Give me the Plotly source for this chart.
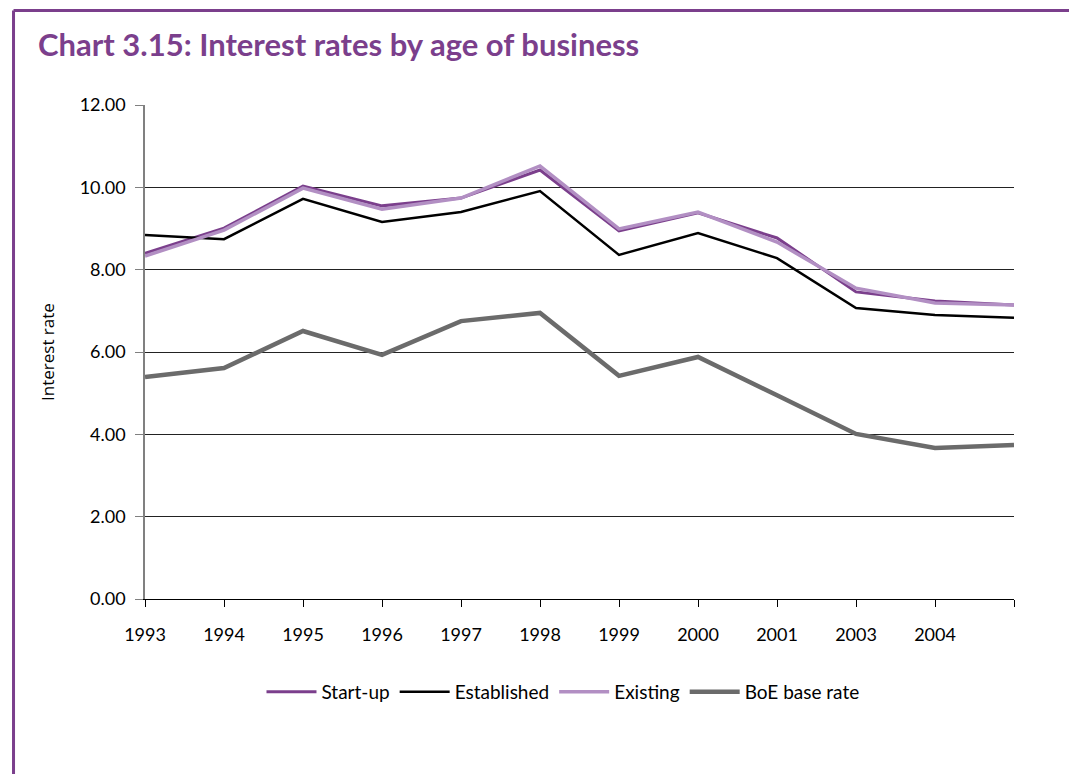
import plotly.graph_objects as go

# Category axis: one point per survey year (last point has no label)
years = ["1993", "1994", "1995", "1996", "1997", "1998", "1999", "2000", "2001", "2003", "2004", ""]

start_up = [8.40, 9.01, 10.03, 9.55, 9.74, 10.42, 8.94, 9.38, 8.77, 7.46, 7.24, 7.14]
established = [8.84, 8.74, 9.72, 9.16, 9.40, 9.91, 8.36, 8.89, 8.28, 7.07, 6.90, 6.83]
existing = [8.33, 8.96, 9.98, 9.47, 9.74, 10.52, 8.99, 9.40, 8.67, 7.55, 7.19, 7.14]
boe_base = [5.39, 5.61, 6.51, 5.93, 6.75, 6.95, 5.42, 5.88, 4.95, 4.01, 3.67, 3.74]

y_ticks = [0, 2, 4, 6, 8, 10, 12]

PURPLE = "#7B3F8C"
LIGHT_PURPLE = "#B28FC3"
GREY = "#6B6B6B"
FONT = "Lato, Open Sans, sans-serif"

x_idx = list(range(len(years)))

fig = go.Figure()
series = [
    ("Start-up", start_up, PURPLE, 3),
    ("Established", established, "#000000", 2.5),
    ("Existing", existing, LIGHT_PURPLE, 3.5),
    ("BoE base rate", boe_base, GREY, 4.5),
]
for name, vals, color, width in series:
    fig.add_trace(go.Scatter(
        x=x_idx, y=vals, name=name, mode="lines",
        line=dict(color=color, width=width),
    ))

fig.update_layout(
    width=1069, height=774,
    margin=dict(l=145, r=55, t=105, b=175),
    paper_bgcolor="white", plot_bgcolor="white",
    font=dict(family=FONT, size=18, color="#000000"),
    showlegend=True,
    legend=dict(
        orientation="h", x=0.481, xanchor="center", y=-0.188, yanchor="middle",
        font=dict(family=FONT, size=19), itemwidth=50, tracegroupgap=0,
    ),
    xaxis=dict(
        range=[0, 11], tickmode="array", tickvals=x_idx, ticktext=years,
        showgrid=False, zeroline=False,
        showline=True, linecolor="#000000", linewidth=1,
        ticks="outside", ticklen=7, tickcolor="#000000",
        ticklabelstandoff=12,
        tickfont=dict(family=FONT, size=18),
    ),
    yaxis=dict(
        range=[0, 12], tickmode="array", tickvals=y_ticks,
        ticktext=[f"{v:.2f}" for v in y_ticks],
        showgrid=True, gridcolor="#222222", gridwidth=1,
        zeroline=False,
        showline=True, linecolor="#808080", linewidth=1.5,
        ticks="outside", ticklen=8, tickcolor="#808080",
        ticklabelstandoff=6,
        tickfont=dict(family=FONT, size=18),
    ),
)

# Vertical axis title
fig.add_annotation(
    text="Interest rate", textangle=-90,
    xref="paper", yref="paper", x=-0.1128, y=0.5,
    xanchor="center", yanchor="middle", showarrow=False,
    font=dict(family="Open Sans, sans-serif", size=17, color="#000000"),
)

# Title
fig.add_annotation(
    text="<b>Chart 3.15: Interest rates by age of business</b>",
    xref="paper", yref="paper", x=-0.1254, y=1.123,
    xanchor="left", yanchor="middle", showarrow=False,
    font=dict(family=FONT, size=31, color=PURPLE),
)

# Purple frame: top edge and left edge
fig.add_shape(type="line", xref="paper", yref="paper",
              x0=-0.1513, x1=1.07, y0=1.1913, y1=1.1913,
              line=dict(color=PURPLE, width=3))
fig.add_shape(type="line", xref="paper", yref="paper",
              x0=-0.1513, x1=-0.1513, y0=1.1913, y1=-0.36,
              line=dict(color=PURPLE, width=3))

fig.write_html("out.html")
